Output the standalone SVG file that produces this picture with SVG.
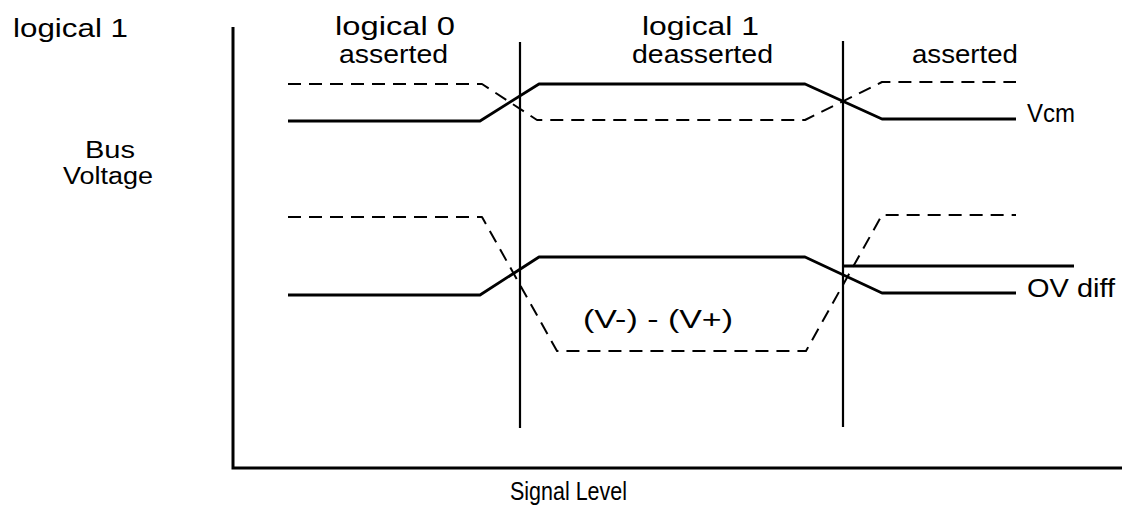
<svg xmlns="http://www.w3.org/2000/svg" width="1125" height="508" viewBox="0 0 1125 508">
<style>
.t{font-family:"Liberation Sans",Arial,sans-serif;font-size:26px;fill:#000}
.s{font-size:23px}
.ax{stroke:#000;stroke-width:3;fill:none}
.vl{stroke:#000;stroke-width:2.2;fill:none}
.sol{stroke:#000;stroke-width:2.8;fill:none;stroke-linejoin:round}
.dash{stroke:#000;stroke-width:2;fill:none;stroke-dasharray:13 8;stroke-linejoin:round}
</style>
<rect width="1125" height="508" fill="#fff"/>
<g id="axes">
<path class="ax" d="M233 27 V468 H1122"/>
</g>
<g id="dividers">
<line class="vl" x1="520" y1="42" x2="520" y2="428"/>
<line class="vl" x1="843" y1="41" x2="843" y2="427"/>
</g>
<g id="vcm-signals">
<polyline class="sol" points="288,121 480,121 539,84 805,84 882,119 1016,119"/>
<polyline class="dash" points="288,84 482,84 537,120 805,120 882,82 1016,82"/>
</g>
<g id="diff-signals">
<polyline class="sol" points="288,295 480,295 539,257 805,257 882,293 1016,293"/>
<polyline class="dash" points="288,217 482,217 557,351 806,351 882,215 1016,215"/>
<line class="sol" x1="843" y1="266" x2="1074" y2="266"/>
</g>
<g id="labels">
<text class="t" x="13" y="37" textLength="115" lengthAdjust="spacingAndGlyphs">logical  1</text>
<text class="t" x="335" y="35" textLength="120" lengthAdjust="spacingAndGlyphs">logical  0</text>
<text class="t" x="339" y="63" textLength="109" lengthAdjust="spacingAndGlyphs">asserted</text>
<text class="t" x="642" y="35" textLength="117" lengthAdjust="spacingAndGlyphs">logical  1</text>
<text class="t" x="632" y="63" textLength="141" lengthAdjust="spacingAndGlyphs">deasserted</text>
<text class="t" x="912" y="63" textLength="106" lengthAdjust="spacingAndGlyphs">asserted</text>
<text class="t" x="1027" y="122" textLength="48" lengthAdjust="spacingAndGlyphs">Vcm</text>
<text class="t" x="1027" y="297" textLength="88" lengthAdjust="spacingAndGlyphs">OV diff</text>
<text class="t" x="583" y="328" textLength="150" lengthAdjust="spacingAndGlyphs">(V-) - (V+)</text>
<text class="t s" x="85" y="158" textLength="50" lengthAdjust="spacingAndGlyphs">Bus</text>
<text class="t s" x="63" y="184" textLength="90" lengthAdjust="spacingAndGlyphs">Voltage</text>
<text class="t" x="510" y="500" textLength="117" lengthAdjust="spacingAndGlyphs">Signal Level</text>
</g>
</svg>
